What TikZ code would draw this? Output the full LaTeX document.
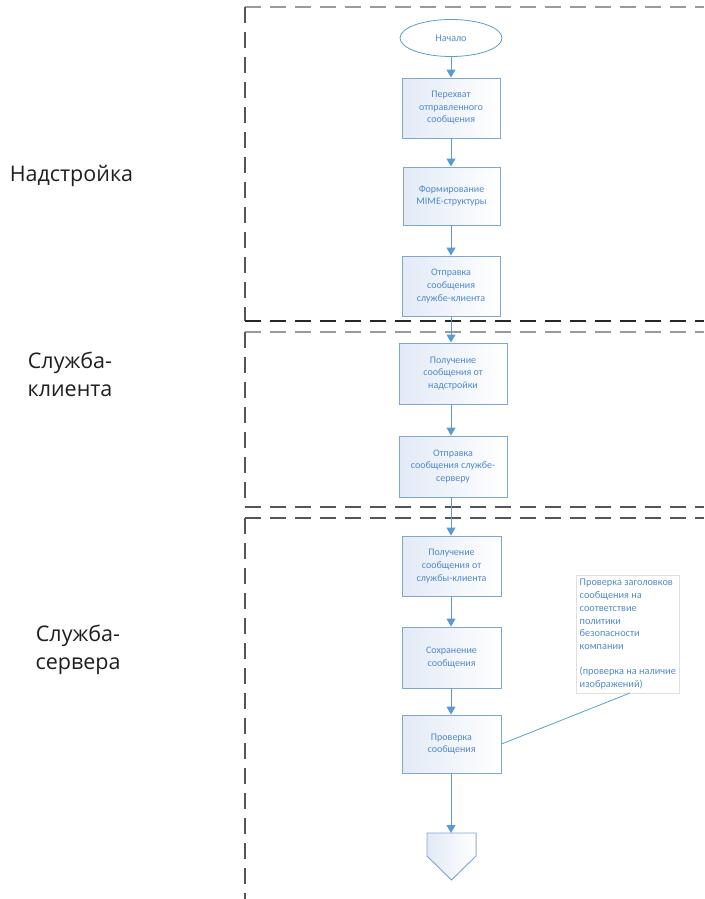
\documentclass[tikz,border=0pt]{standalone}
\usepackage{fontspec}
\setmainfont{Carlito}
\newfontfamily\lanefont{Open Sans}
\usetikzlibrary{arrows.meta,shapes.geometric}
\definecolor{arrblue}{HTML}{5B9BD5}
\definecolor{boxblue}{HTML}{7FA7D4}
\definecolor{txtblue}{HTML}{5089C8}
\definecolor{fillblue}{HTML}{E2EAF6}
\definecolor{lgray}{HTML}{9A9A9A}
\definecolor{dgray}{HTML}{555555}
\tikzset{
  stepbox/.style={draw=boxblue, line width=0.9pt, left color=fillblue, right color=white,
    text=txtblue, align=center, font=\fontsize{10}{12.6}\selectfont, inner sep=2pt},
  arr/.style={draw=arrblue, line width=1pt, -{Triangle[width=9pt,length=8pt]}},
  lanelbl/.style={font=\lanefont\fontsize{21.5}{28}\selectfont, align=center, text=black!88},
  graydash/.style={draw=lgray, line width=1.4pt, dash pattern=on 16pt off 9pt},
  darkdash/.style={draw=dgray, line width=1.4pt, dash pattern=on 16pt off 9pt},
  blackdash/.style={draw=black!85, line width=1.4pt, dash pattern=on 16pt off 9pt},
}
\begin{document}
\begin{tikzpicture}[x=1pt,y=-1pt]
\useasboundingbox (0,0) rectangle (704,899);
% lanes
\draw[graydash] (245,7) -- (704,7);
\draw[darkdash] (245,7) -- (245,321);
\draw[blackdash] (245,321) -- (704,321);
\draw[graydash] (245,332) -- (704,332);
\draw[darkdash] (245,332) -- (245,507);
\draw[darkdash] (245,507) -- (704,507);
\draw[darkdash] (245,518) -- (704,518);
\draw[darkdash] (245,518) -- (245,899);
% lane labels
\node[lanelbl] (l1) at (71.5,176) {Надстройка};
\node[lanelbl] (l2) at (70,374) {Служба-\\клиента};
\node[lanelbl] (l3) at (78,650) {Служба-\\сервера};
% nodes
\node[ellipse, draw=arrblue, line width=0.8pt, fill=white, minimum width=102pt, minimum height=37pt,
  text=txtblue, font=\fontsize{10}{12}\selectfont] (start) at (451,38) {Начало};
\node[stepbox, minimum width=98pt, minimum height=60pt] (b1) at (451,108) {Перехват\\отправленного\\сообщения};
\node[stepbox, minimum width=97pt, minimum height=58pt] (b2) at (451.5,196) {Формирование\\MIME-структуры};
\node[stepbox, minimum width=98pt, minimum height=60pt] (b3) at (451,286) {Отправка\\сообщения\\службе-клиента};
\node[stepbox, minimum width=108pt, minimum height=61pt] (b4) at (453,373.5) {Получение\\сообщения от\\надстройки};
\node[stepbox, minimum width=108pt, minimum height=61pt] (b5) at (453,466.5) {Отправка\\сообщения службе-\\серверу};
\node[stepbox, minimum width=99pt, minimum height=60pt] (b6) at (451.5,566) {Получение\\сообщения от\\службы-клиента};
\node[stepbox, minimum width=99pt, minimum height=61pt] (b7) at (451.5,657.5) {Сохранение\\сообщения};
\node[stepbox, minimum width=99pt, minimum height=58pt] (b8) at (451.5,744) {Проверка\\сообщения};
% off-page connector
\coordinate (off) at (451.5,833);
\filldraw[draw=boxblue, line width=0.9pt, left color=fillblue, right color=white]
  (427,833) -- (476,833) -- (476,856) -- (451.5,880) -- (427,856) -- cycle;
% annotation
\node[draw=black!12, line width=0.6pt, align=left, text=txtblue, font=\fontsize{10.3}{12.7}\selectfont,
  inner sep=1.5pt, anchor=north west, minimum width=103pt, minimum height=118pt] (note) at (576,575)
  {Проверка заголовков\\сообщения на\\соответствие\\политики\\безопасности\\компании\\[12.7pt](проверка на наличие\\изображений)};
% connectors
\draw[arr] (start.south) -- (b1.north -| start.south);
\draw[arr] (b1.south -| start.south) -- (b2.north -| start.south);
\draw[arr] (b2.south -| start.south) -- (b3.north -| start.south);
\draw[arr] (b3.south -| start.south) -- (b4.north -| start.south);
\draw[arr] (b4.south -| start.south) -- (b5.north -| start.south);
\draw[arr] (b5.south -| start.south) -- (b6.north -| start.south);
\draw[arr] (b6.south -| start.south) -- (b7.north -| start.south);
\draw[arr] (b7.south -| start.south) -- (b8.north -| start.south);
\draw[arr] (b8.south -| start.south) -- (off -| start.south);
\coordinate (nb) at (630,693);
\draw[draw=arrblue, line width=0.8pt] (b8.east) -- (nb);
\end{tikzpicture}
\end{document}
